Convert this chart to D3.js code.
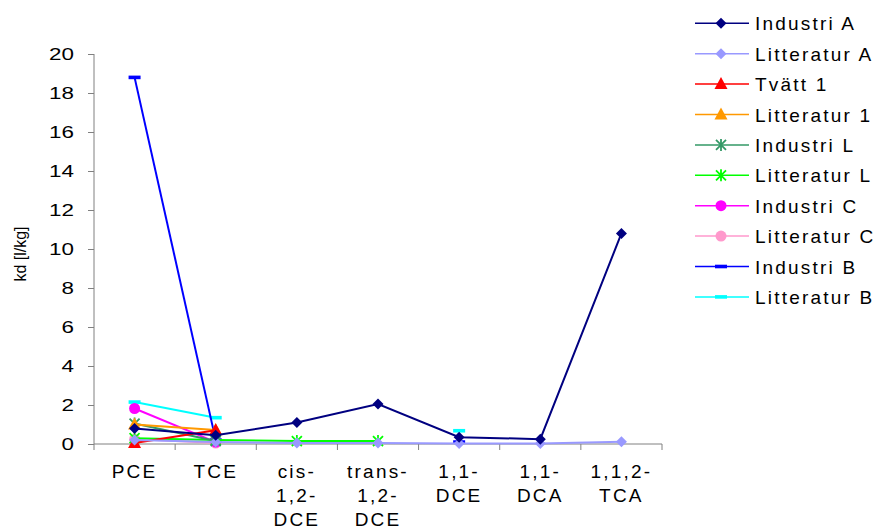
<!DOCTYPE html>
<html>
<head>
<meta charset="utf-8">
<script src="https://cdn.jsdelivr.net/npm/d3@7"></script>
<style>
  body { margin: 0; background: #fff; }
  text { font-family: "Liberation Sans", Arial, sans-serif; fill: #000; }
</style>
</head>
<body>
<svg id="chart" width="877" height="526"></svg>
<script>
// DATA
const categories = [["PCE"], ["TCE"], ["cis-", "1,2-", "DCE"], ["trans-", "1,2-", "DCE"], ["1,1-", "DCE"], ["1,1-", "DCA"], ["1,1,2-", "TCA"]];
const yTicks = [0, 2, 4, 6, 8, 10, 12, 14, 16, 18, 20];

const industriA   = [0.8, 0.45, 1.1, 2.05, 0.35, 0.25, 10.8];
const litteraturA = [0.2, 0.1, 0.05, 0.05, 0.03, 0.03, 0.12];
const tvatt1      = [0.05, 0.7, null, null, null, null, null];
const litteratur1 = [1.0, 0.72, null, null, null, null, null];
const industriL   = [1.05, 0.15, null, null, null, null, null];
const litteraturL = [0.3, 0.2, 0.15, 0.15, null, null, null];
const industriC   = [1.82, 0.1, null, null, null, null, null];
const litteraturC = [0.25, 0.05, null, null, null, null, null];
const industriB   = [18.8, 0.2, null, null, 0.1, null, null];
const litteraturB = [2.15, 1.35, null, null, 0.68, null, null];

const series = [
  {name: "Industri A",   values: industriA,   color: "#000080", marker: "diamond"},
  {name: "Litteratur A", values: litteraturA, color: "#9999ff", marker: "diamond"},
  {name: "Tvätt 1",      values: tvatt1,      color: "#ff0000", marker: "triangle"},
  {name: "Litteratur 1", values: litteratur1, color: "#ff9900", marker: "triangle"},
  {name: "Industri L",   values: industriL,   color: "#339966", marker: "asterisk"},
  {name: "Litteratur L", values: litteraturL, color: "#00ff00", marker: "asterisk"},
  {name: "Industri C",   values: industriC,   color: "#ff00ff", marker: "circle"},
  {name: "Litteratur C", values: litteraturC, color: "#ff99cc", marker: "circle"},
  {name: "Industri B",   values: industriB,   color: "#0000ff", marker: "dash"},
  {name: "Litteratur B", values: litteraturB, color: "#00ffff", marker: "dash"}
];

// LAYOUT
const _plot = {left: 94, right: 662, top: 54, bottom: 444};
const svg = d3.select("#chart");

const x = d3.scaleBand()
            .domain(d3.range(categories.length))
            .range([_plot.left, _plot.right]);
const y = d3.scaleLinear()
            .domain([0, 20])
            .range([_plot.bottom, _plot.top]);

// AXES
const axisColor = "#808080";
const tickStretch = 1.4;
let yAxis = svg.append("g")
               .attr("transform", `translate(${_plot.left},0)`)
               .call(d3.axisLeft(y).tickValues(yTicks).tickSize(6));
    yAxis.select(".domain").attr("stroke", axisColor).attr("d", `M0,${_plot.bottom}V${_plot.top}`);
    yAxis.selectAll(".tick line").attr("stroke", axisColor);
    yAxis.selectAll(".tick text")
         .attr("x", -20 / tickStretch)
         .attr("transform", `scale(${tickStretch},1)`)
         .attr("font-size", 16)
         .attr("font-family", "Liberation Sans, Arial, sans-serif");

let xAxis = svg.append("g");
    xAxis.append("line")
         .attr("x1", _plot.left).attr("x2", _plot.right)
         .attr("y1", _plot.bottom).attr("y2", _plot.bottom)
         .attr("stroke", axisColor);
    xAxis.selectAll("line.tk")
         .data(d3.range(categories.length + 1))
         .enter()
         .append("line")
         .attr("class", "tk")
         .attr("x1", i => _plot.left + i * x.bandwidth())
         .attr("x2", i => _plot.left + i * x.bandwidth())
         .attr("y1", _plot.bottom).attr("y2", _plot.bottom + 6)
         .attr("stroke", axisColor);
    let labels = xAxis.selectAll("text")
         .data(categories)
         .enter()
         .append("text")
         .attr("text-anchor", "middle")
         .attr("font-size", 19)
         .attr("letter-spacing", 2.2)
         .attr("x", (d, i) => x(i) + x.bandwidth() / 2)
         .attr("y", 477.5);
    labels.selectAll("tspan")
          .data(d => d)
          .enter()
          .append("tspan")
          .attr("x", function() { return d3.select(this.parentNode).attr("x"); })
          .attr("dy", (d, i) => i === 0 ? 0 : 24)
          .text(d => d);

svg.append("text")
   .attr("transform", `translate(26,254) rotate(-90)`)
   .attr("text-anchor", "middle")
   .attr("font-size", 16)
   .text("kd [l/kg]");

// MARKERS
function drawMarker(g, type, color) {
  if (type === "diamond") {
    g.append("path").attr("d", "M0,-5.5L5.5,0L0,5.5L-5.5,0Z").attr("fill", color);
  } else if (type === "triangle") {
    g.append("path").attr("d", "M0,-7L6.5,5L-6.5,5Z").attr("fill", color);
  } else if (type === "circle") {
    g.append("circle").attr("r", 5.5).attr("fill", color);
  } else if (type === "asterisk") {
    g.append("path").attr("d", "M-5,-5L5,5M-5,5L5,-5M0,-6V6").attr("stroke", color).attr("stroke-width", 1.8);
  } else if (type === "dash") {
    g.append("rect").attr("x", -6).attr("y", -1.8).attr("width", 12).attr("height", 3.6).attr("fill", color);
  }
}

const line = d3.line()
               .defined(d => d.v !== null)
               .x(d => x(d.i) + x.bandwidth() / 2)
               .y(d => y(d.v));

// draw back to front so Industri A is on top
series.slice().reverse().forEach(s => {
  let pts = s.values.map((v, i) => ({i: i, v: v}));
  let grp = svg.append("g");
  grp.append("path")
     .attr("d", line(pts))
     .attr("fill", "none")
     .attr("stroke", s.color)
     .attr("stroke-width", 2);
  pts.filter(d => d.v !== null).forEach(d => {
    let m = grp.append("g").attr("transform", `translate(${x(d.i) + x.bandwidth() / 2},${y(d.v)})`);
    drawMarker(m, s.marker, s.color);
  });
});

// LEGEND
let legend = svg.append("g").attr("transform", "translate(695,23.3)");
series.forEach((s, i) => {
  let row = legend.append("g").attr("transform", `translate(0,${i * 30.4})`);
  row.append("line").attr("x1", 0).attr("x2", 54).attr("stroke", s.color).attr("stroke-width", 1.5);
  let m = row.append("g").attr("transform", "translate(26,0)");
  drawMarker(m, s.marker, s.color);
  row.append("text").attr("x", 60).attr("y", 7).attr("font-size", 19).attr("letter-spacing", 2.2).text(s.name);
});
</script>
</body>
</html>
